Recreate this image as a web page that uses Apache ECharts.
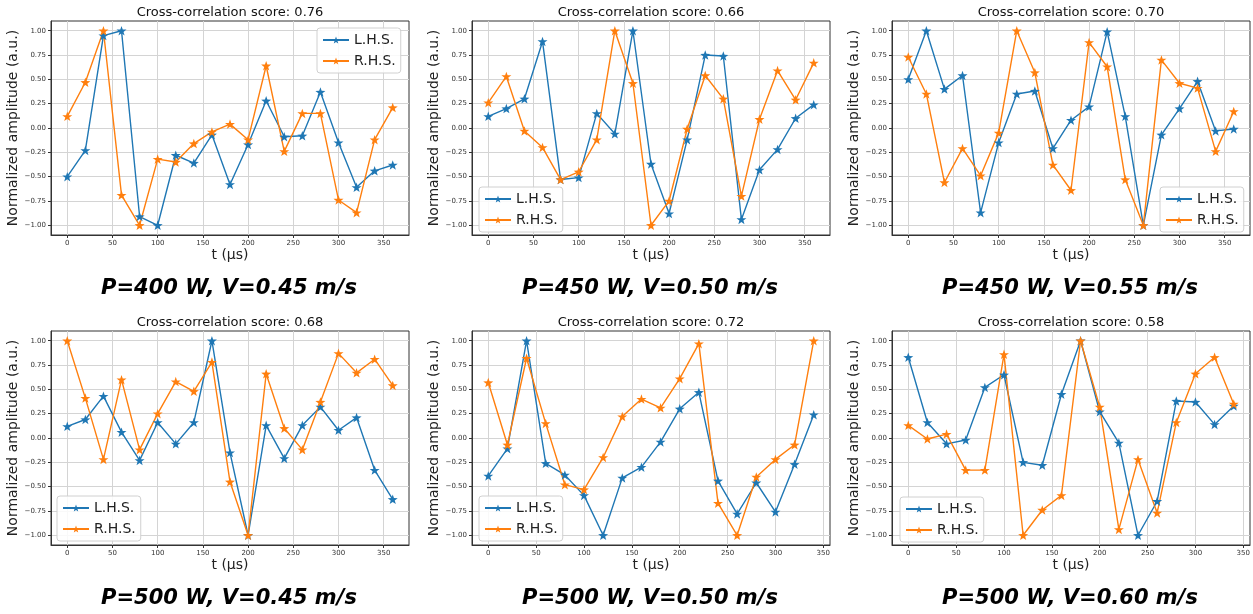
<!DOCTYPE html>
<html>
<head>
<meta charset="utf-8">
<script src="https://cdn.jsdelivr.net/npm/echarts@6/dist/echarts.min.js"></script>
<style>
  html, body { margin: 0; padding: 0; background: #fff; }
  #chart { width: 1253px; height: 614px; }
</style>
</head>
<body>
<div id="chart"></div>
<script>
// time axes (µs)
const t360 = [0, 20, 40, 60, 80, 100, 120, 140, 160, 180, 200, 220, 240, 260, 280, 300, 320, 340, 360];
const t340 = [0, 20, 40, 60, 80, 100, 120, 140, 160, 180, 200, 220, 240, 260, 280, 300, 320, 340];

// P=400 W, V=0.45 m/s
const lhs1 = [-0.50, -0.23, 0.95, 1.00, -0.91, -1.00, -0.28, -0.36, -0.07, -0.58, -0.17, 0.28, -0.09, -0.08, 0.37, -0.15, -0.61, -0.44, -0.38];
const rhs1 = [0.12, 0.47, 1.00, -0.69, -1.00, -0.32, -0.35, -0.16, -0.04, 0.04, -0.12, 0.64, -0.24, 0.15, 0.15, -0.74, -0.87, -0.12, 0.21];
// P=450 W, V=0.50 m/s
const lhs2 = [0.12, 0.20, 0.30, 0.89, -0.53, -0.51, 0.15, -0.06, 1.00, -0.37, -0.88, -0.12, 0.75, 0.74, -0.94, -0.43, -0.22, 0.10, 0.24];
const rhs2 = [0.26, 0.53, -0.03, -0.20, -0.53, -0.45, -0.12, 1.00, 0.46, -1.00, -0.75, -0.01, 0.54, 0.30, -0.70, 0.09, 0.59, 0.29, 0.67];
// P=450 W, V=0.55 m/s
const lhs3 = [0.50, 1.00, 0.40, 0.54, -0.87, -0.15, 0.35, 0.38, -0.21, 0.08, 0.22, 0.99, 0.12, -1.00, -0.07, 0.20, 0.48, -0.03, -0.01];
const rhs3 = [0.73, 0.35, -0.56, -0.21, -0.49, -0.05, 1.00, 0.57, -0.38, -0.64, 0.88, 0.63, -0.53, -1.00, 0.70, 0.46, 0.41, -0.24, 0.17];
// P=500 W, V=0.45 m/s
const lhs4 = [0.12, 0.19, 0.43, 0.06, -0.23, 0.16, -0.06, 0.16, 1.00, -0.15, -1.00, 0.13, -0.21, 0.13, 0.32, 0.08, 0.21, -0.33, -0.63];
const rhs4 = [1.00, 0.41, -0.22, 0.60, -0.12, 0.25, 0.58, 0.48, 0.78, -0.45, -1.00, 0.66, 0.10, -0.12, 0.37, 0.87, 0.67, 0.81, 0.54];
// P=500 W, V=0.50 m/s
const lhs5 = [-0.39, -0.11, 1.00, -0.26, -0.38, -0.59, -1.00, -0.41, -0.30, -0.04, 0.30, 0.47, -0.44, -0.78, -0.46, -0.76, -0.27, 0.24];
const rhs5 = [0.57, -0.07, 0.82, 0.15, -0.48, -0.53, -0.20, 0.22, 0.40, 0.31, 0.61, 0.97, -0.67, -1.00, -0.40, -0.22, -0.07, 1.00];
// P=500 W, V=0.60 m/s
const lhs6 = [0.83, 0.16, -0.06, -0.02, 0.52, 0.65, -0.25, -0.28, 0.45, 1.00, 0.27, -0.05, -1.00, -0.65, 0.38, 0.37, 0.14, 0.33];
const rhs6 = [0.13, -0.01, 0.04, -0.33, -0.33, 0.86, -1.00, -0.74, -0.59, 1.00, 0.32, -0.94, -0.22, -0.77, 0.16, 0.66, 0.83, 0.35];

const scores = ['0.76', '0.66', '0.70', '0.68', '0.72', '0.58'];
const conditions = ['P=400 W, V=0.45 m/s', 'P=450 W, V=0.50 m/s', 'P=450 W, V=0.55 m/s',
                    'P=500 W, V=0.45 m/s', 'P=500 W, V=0.50 m/s', 'P=500 W, V=0.60 m/s'];
const xTicks = [0, 50, 100, 150, 200, 250, 300, 350];
const yTicks = [-1, -0.75, -0.5, -0.25, 0, 0.25, 0.5, 0.75, 1];

const panels = [
    { t: t360, lhs: lhs1, rhs: rhs1 },
    { t: t360, lhs: lhs2, rhs: rhs2 },
    { t: t360, lhs: lhs3, rhs: rhs3 },
    { t: t360, lhs: lhs4, rhs: rhs4 },
    { t: t340, lhs: lhs5, rhs: rhs5 },
    { t: t340, lhs: lhs6, rhs: rhs6 }
];

// layout
const colLeft = [51, 472, 892];
const rowTop = [21, 331];
const plotW = 358, plotH = 214;
const legendPos = [
    { left: 317, top: 28 }, { left: 479, top: 187 }, { left: 1160, top: 187 },
    { left: 57, top: 496 }, { left: 479, top: 496 }, { left: 900, top: 497 }
];

const BLUE = '#1f77b4', ORANGE = '#ff7f0e';
const FONT = 'DejaVu Sans';
const STAR = 'path://M0,-10L2.35,-3.24L9.51,-3.09L3.8,1.24L5.88,8.09L0,4L-5.88,8.09L-3.8,1.24L-9.51,-3.09L-2.35,-3.24Z';

function fmtY(v) {
    const s = Math.abs(v).toFixed(2);
    return v < 0 ? '\u2212' + s : s;
}

const grids = [], xAxes = [], yAxes = [], series = [], legends = [], graphics = [];

panels.forEach((p, i) => {
    const left = colLeft[i % 3];
    const top = rowTop[Math.floor(i / 3)];
    const tMax = p.t[p.t.length - 1];
    const pad = tMax * 0.05;

    grids.push({ left: left, top: top, width: plotW, height: plotH, show: true, borderColor: '#333', borderWidth: 1, containLabel: false });

    xAxes.push({
        type: 'value', gridIndex: i, min: -pad, max: tMax + pad,
        name: 't (μs)', nameLocation: 'middle', nameGap: 13,
        nameTextStyle: { fontFamily: FONT, fontSize: 14, color: '#222' },
        axisLine: { show: true, onZero: false, lineStyle: { color: '#333', width: 1 } },
        axisTick: { show: true, length: 3, customValues: xTicks, lineStyle: { color: '#333' } },
        axisLabel: { customValues: xTicks, fontFamily: FONT, fontSize: 7, color: '#333', margin: 5 },
        splitLine: { show: true, lineStyle: { color: '#d4d4d4', width: 1 } }
    });

    yAxes.push({
        type: 'value', gridIndex: i, min: -1.1, max: 1.1,
        name: 'Normalized amplitude (a.u.)', nameLocation: 'middle', nameGap: 29,
        nameTextStyle: { fontFamily: FONT, fontSize: 14, color: '#222' },
        axisLine: { show: true, onZero: false, lineStyle: { color: '#333', width: 1 } },
        axisTick: { show: true, length: 3, customValues: yTicks, lineStyle: { color: '#333' } },
        axisLabel: { customValues: yTicks, formatter: fmtY, fontFamily: FONT, fontSize: 7, color: '#333', margin: 5 },
        splitLine: { show: true, lineStyle: { color: '#d4d4d4', width: 1 } }
    });

    [['L.H.S.', p.lhs, BLUE], ['R.H.S.', p.rhs, ORANGE]].forEach(([name, vals, color]) => {
        series.push({
            name: name, type: 'line', xAxisIndex: i, yAxisIndex: i,
            data: p.t.map((t, k) => [t, vals[k]]),
            symbol: STAR, symbolSize: 10, symbolKeepAspect: true, showSymbol: true,
            itemStyle: { color: color },
            lineStyle: { color: color, width: 1.4 },
            animation: false, silent: true
        });
    });

    legends.push({
        left: legendPos[i].left, top: legendPos[i].top, orient: 'vertical',
        data: ['L.H.S.', 'R.H.S.'], itemWidth: 26, itemHeight: 9, itemGap: 7,
        padding: [5, 5, 5, 5], borderColor: '#d0d0d0', borderWidth: 1, borderRadius: 3,
        backgroundColor: 'rgba(255,255,255,0.85)', selectedMode: false,
        textStyle: { fontFamily: FONT, fontSize: 14, color: '#222' }
    });

    graphics.push({
        type: 'text', x: left + plotW / 2, y: top - 8,
        style: { text: 'Cross-correlation score: ' + scores[i], font: '13px "DejaVu Sans"', fill: '#111', align: 'center', verticalAlign: 'middle' }
    });
    graphics.push({
        type: 'text', x: left + plotW / 2 - 1, y: top + 268,
        style: { text: conditions[i], font: 'italic bold 21px "DejaVu Sans"', fill: '#000', align: 'center', verticalAlign: 'middle' }
    });
});

const myChart = echarts.init(document.getElementById('chart'));
myChart.setOption({
    animation: false,
    grid: grids,
    xAxis: xAxes,
    yAxis: yAxes,
    legend: legends,
    series: series,
    graphic: graphics
});
</script>
</body>
</html>
